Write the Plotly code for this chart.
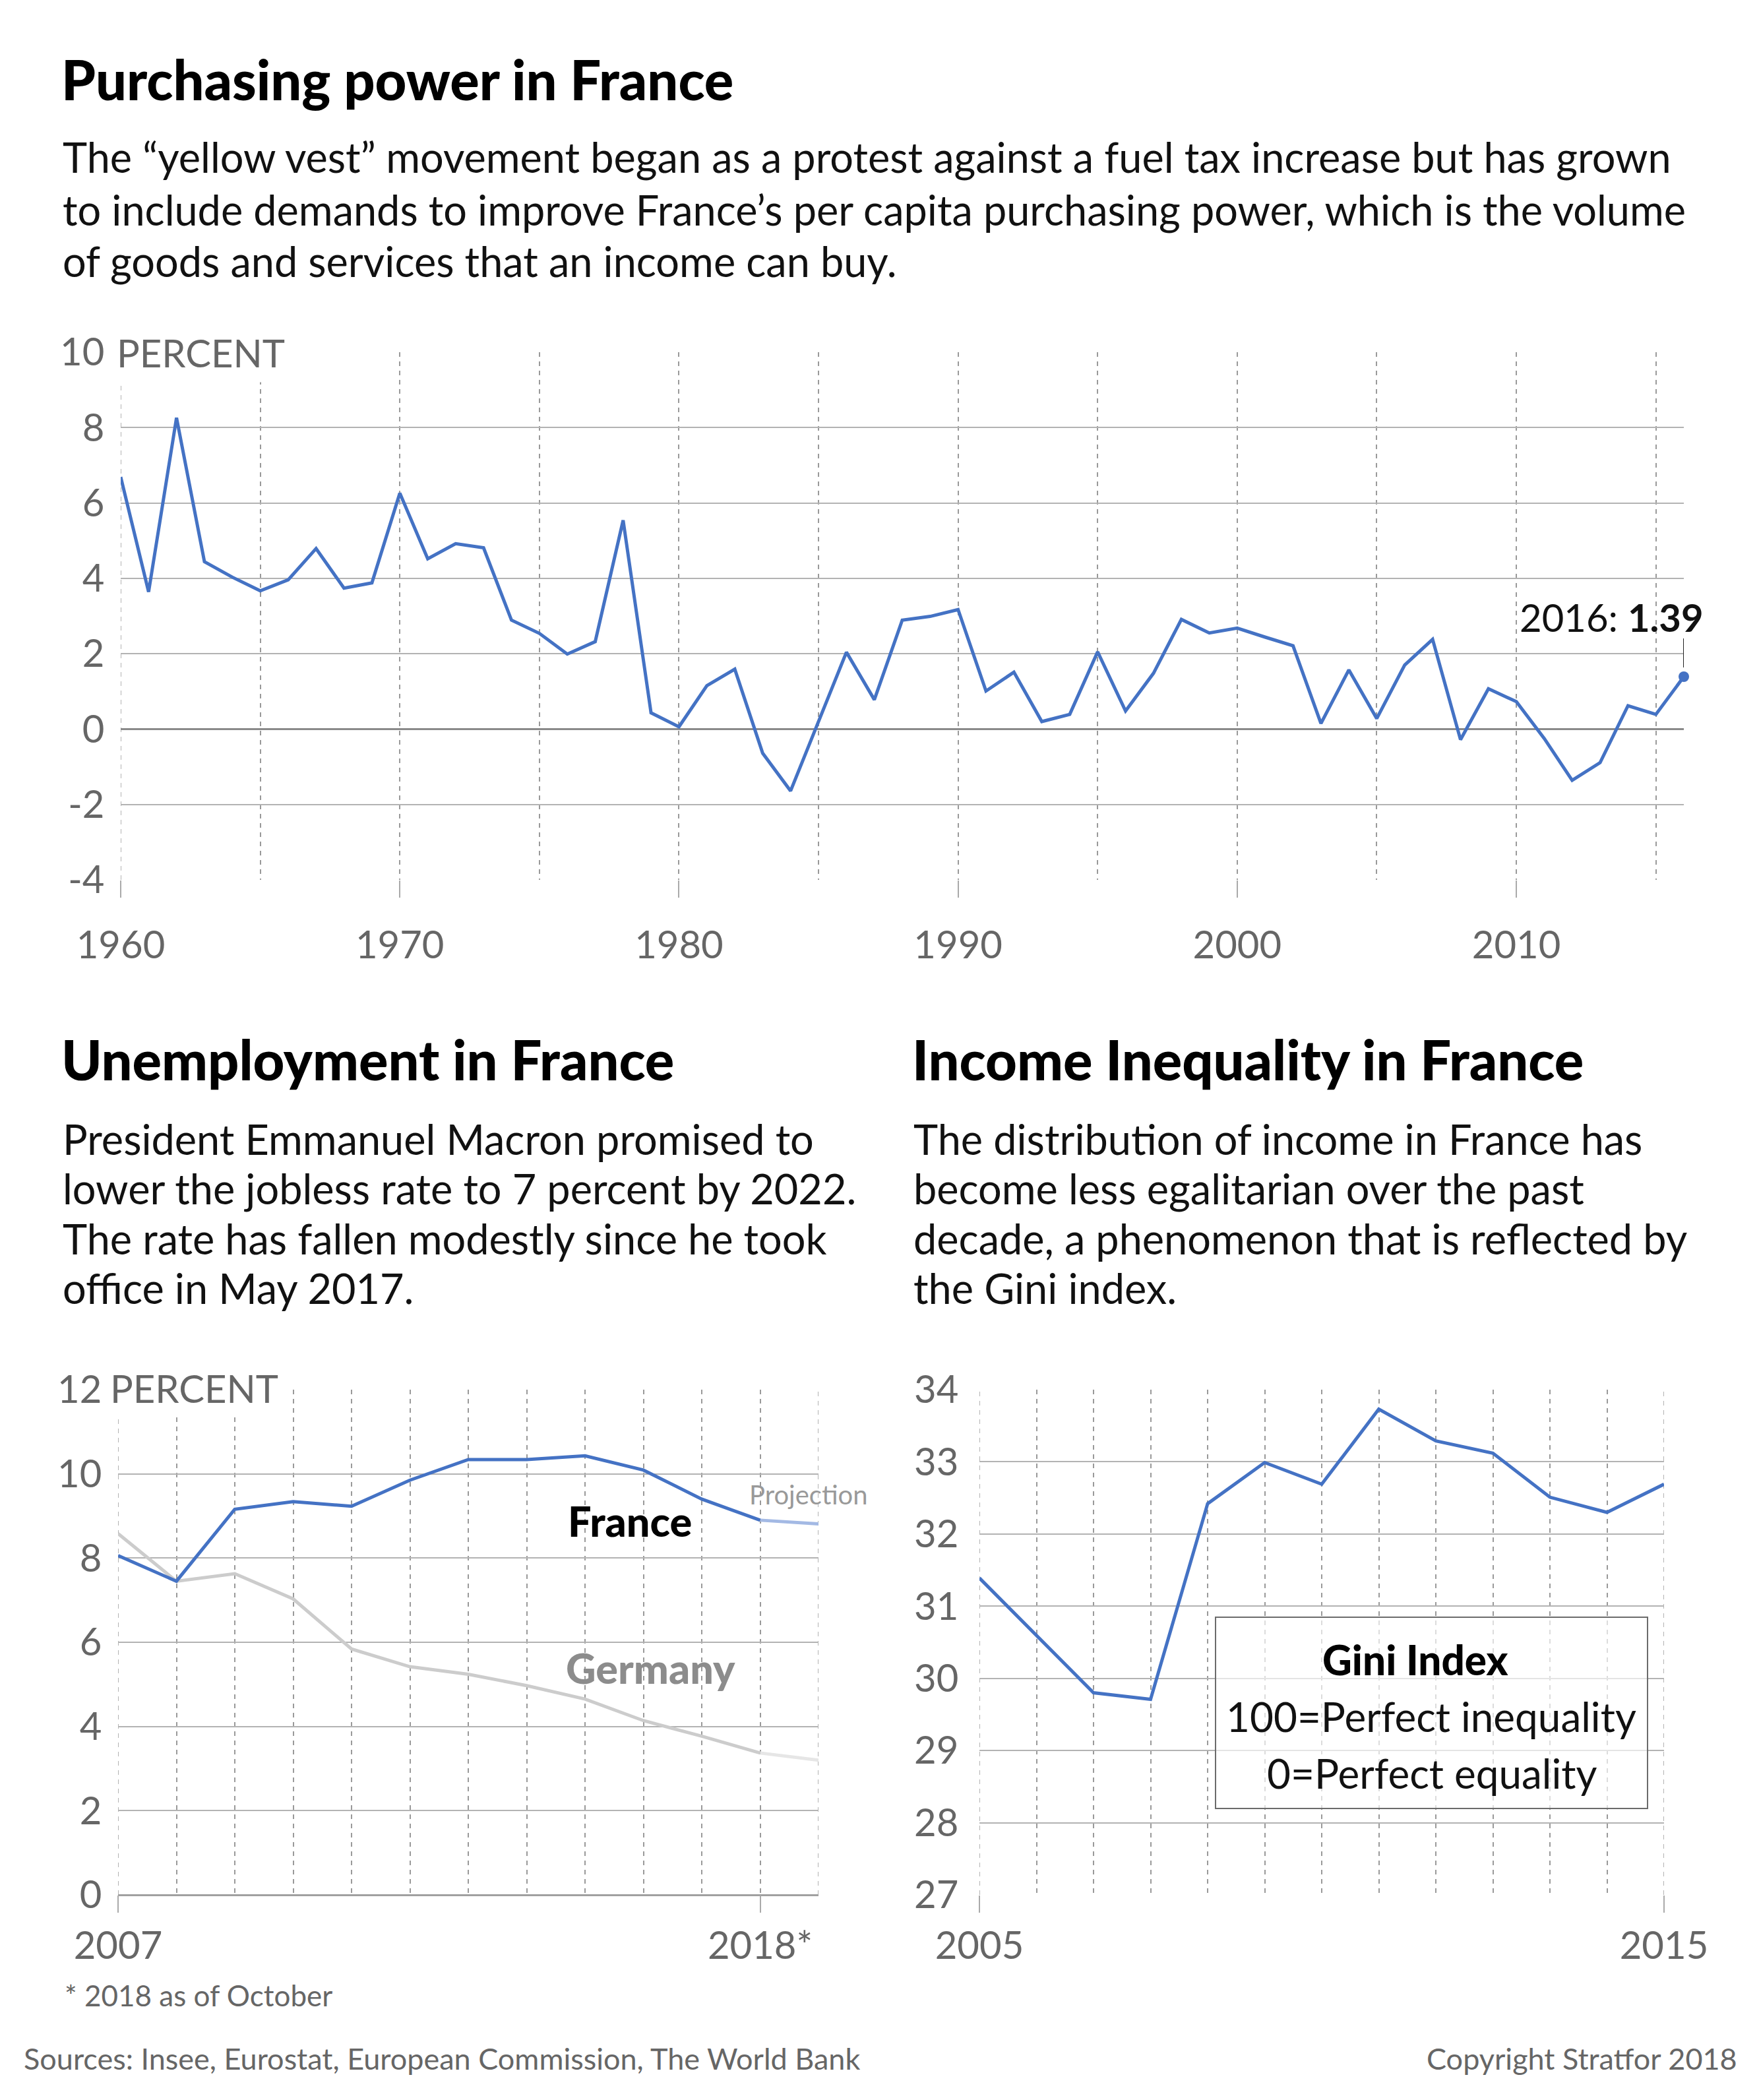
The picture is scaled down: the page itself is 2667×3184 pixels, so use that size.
import plotly.graph_objects as go

W, H = 2667, 3184
def px(x): return x / W
def py(y): return 1 - y / H

FONT = "Lato"
HEAVY = "Lato Black, Lato Heavy, Lato"
BLUE = "#4472c4"
BLUE_LIGHT = "#a3b9e4"
GREY_LINE = "#cccccc"
GREY_LIGHT = "#e6e6e6"
TICK_GREY = "#666666"
GRID_DASH = "#9a9a9a"

# ---------------- data ----------------
pp_years = list(range(1960, 2017))
pp_values = [6.69, 3.64, 8.26, 4.44, 4.03, 3.67, 3.96, 4.79, 3.74, 3.88,
             6.26, 4.52, 4.92, 4.81, 2.89, 2.54, 1.99, 2.32, 5.54, 0.43,
             0.06, 1.15, 1.59, -0.64, -1.64, 0.20, 2.04, 0.78, 2.89, 2.99,
             3.17, 1.01, 1.51, 0.20, 0.39, 2.05, 0.48, 1.48, 2.91, 2.55,
             2.68, 2.44, 2.21, 0.15, 1.57, 0.28, 1.70, 2.38, -0.28, 1.07,
             0.73, -0.25, -1.36, -0.89, 0.62, 0.39, 1.39]
pp_tick_years = [1960, 1970, 1980, 1990, 2000, 2010]
pp_y_ticks = [-4, -2, 0, 2, 4, 6, 8, 10]
pp_y_text = ["-4", "-2", "0", "2", "4", "6", "8", "10"]

un_years = list(range(2007, 2020))
un_france = [8.06, 7.45, 9.16, 9.34, 9.23, 9.85, 10.34, 10.34, 10.43, 10.09, 9.40, 8.90, 8.81]
un_germany = [8.58, 7.45, 7.63, 7.03, 5.84, 5.42, 5.24, 4.97, 4.65, 4.14, 3.77, 3.37, 3.20]
un_actual_count = 12          # 2007-2018 actual, 2018-2019 projection
un_tick_vals = [2007, 2018]
un_tick_text = ["2007", "2018*"]

gini_points = list(range(13))
gini_values = [31.39, 30.60, 29.80, 29.71, 32.42, 32.99, 32.69, 33.73, 33.29, 33.12, 32.51, 32.30, 32.69]
gini_tick_vals = [0, 12]
gini_tick_text = ["2005", "2015"]

fig = go.Figure()

# ---------------- traces ----------------
fig.add_trace(go.Scatter(x=pp_years, y=pp_values, mode="lines",
                         line=dict(color=BLUE, width=5), xaxis="x", yaxis="y",
                         hoverinfo="skip"))
fig.add_trace(go.Scatter(x=pp_years[-1:], y=pp_values[-1:], mode="markers",
                         marker=dict(color=BLUE, size=16), xaxis="x", yaxis="y",
                         cliponaxis=False, hoverinfo="skip"))

n = un_actual_count
fig.add_trace(go.Scatter(x=un_years[n-1:], y=un_germany[n-1:], mode="lines",
                         line=dict(color=GREY_LIGHT, width=5), xaxis="x2", yaxis="y2", cliponaxis=False))
fig.add_trace(go.Scatter(x=un_years[:n], y=un_germany[:n], mode="lines",
                         line=dict(color=GREY_LINE, width=5), xaxis="x2", yaxis="y2", cliponaxis=False))
fig.add_trace(go.Scatter(x=un_years[n-1:], y=un_france[n-1:], mode="lines",
                         line=dict(color=BLUE_LIGHT, width=5), xaxis="x2", yaxis="y2", cliponaxis=False))
fig.add_trace(go.Scatter(x=un_years[:n], y=un_france[:n], mode="lines",
                         line=dict(color=BLUE, width=5), xaxis="x2", yaxis="y2", cliponaxis=False))

fig.add_trace(go.Scatter(x=gini_points, y=gini_values, mode="lines",
                         line=dict(color=BLUE, width=5), xaxis="x3", yaxis="y3", cliponaxis=False))

# ---------------- axes ----------------
dash = "7px,7px"
def xaxis_common(**kw):
    d = dict(showline=False, zeroline=False, ticks="outside", ticklen=26, tickwidth=2,
             tickcolor="#aaaaaa", showgrid=True, gridcolor=GRID_DASH, gridwidth=1.5,
             griddash=dash, tickfont=dict(family=FONT, size=58, color=TICK_GREY),
             tickmode="array", fixedrange=True, automargin=False)
    d.update(kw)
    return d

def yaxis_common(**kw):
    d = dict(showline=False, ticks="outside", ticklen=12, tickcolor="rgba(0,0,0,0)",
             showgrid=True, gridcolor="#b3b3b3", gridwidth=2,
             tickfont=dict(family=FONT, size=58, color=TICK_GREY), fixedrange=True,
             automargin=False)
    d.update(kw)
    return d

fig.update_layout(
    xaxis=xaxis_common(domain=[px(183), px(2553)], range=[1960, 2016],
                       tickvals=pp_tick_years, ticklabelstandoff=22,
                       minor=dict(tickmode="linear", tick0=1960, dtick=5, showgrid=True,
                                  gridcolor=GRID_DASH, gridwidth=1.5, griddash=dash, ticks=""),
                       anchor="y"),
    yaxis=yaxis_common(domain=[py(1334), py(534)], range=[-4, 10],
                       tickmode="array", tickvals=pp_y_ticks, ticktext=pp_y_text,
                       zeroline=True, zerolinecolor="#8a8a8a", zerolinewidth=3, anchor="x"),
    xaxis2=xaxis_common(domain=[px(179), px(1241)], range=[2007, 2019],
                        tickvals=un_tick_vals, ticktext=un_tick_text, ticklabelstandoff=0,
                        minor=dict(tickmode="linear", tick0=2007, dtick=1, showgrid=True,
                                   gridcolor=GRID_DASH, gridwidth=1.5, griddash=dash, ticks=""),
                        anchor="y2"),
    yaxis2=yaxis_common(domain=[py(2873), py(2107)], range=[0, 12], dtick=2, tick0=0,
                        zeroline=True, zerolinecolor="#a0a0a0", zerolinewidth=3, anchor="x2"),
    xaxis3=xaxis_common(domain=[px(1485), px(2523)], range=[0, 12],
                        tickvals=gini_tick_vals, ticktext=gini_tick_text, ticklabelstandoff=0,
                        minor=dict(tickmode="linear", tick0=0, dtick=1, showgrid=True,
                                   gridcolor=GRID_DASH, gridwidth=1.5, griddash=dash, ticks=""),
                        anchor="y3"),
    yaxis3=yaxis_common(domain=[py(2873), py(2107)], range=[27, 34], dtick=1, tick0=27,
                        zeroline=False, ticklen=19, anchor="x3"),
)

# ---------------- shapes ----------------
shapes = []
def edge_grid(xref, yref, xval):
    shapes.append(dict(type="line", xref=xref, yref=yref + " domain", x0=xval, x1=xval,
                       y0=0, y1=1, layer="below",
                       line=dict(color=GRID_DASH, width=1.5, dash=dash)))
edge_grid("x", "y", pp_years[0])
edge_grid("x2", "y2", un_years[0])
edge_grid("x2", "y2", un_years[-1])
edge_grid("x3", "y3", gini_points[0])
edge_grid("x3", "y3", gini_points[-1])

shapes.append(dict(type="line", xref="x", yref="y", xsizemode="scaled", ysizemode="pixel",
                   yanchor=pp_values[-1], x0=pp_years[-1], x1=pp_years[-1], y0=14, y1=58,
                   line=dict(color="#222222", width=2)))
shapes.append(dict(type="rect", xref="paper", yref="paper",
                   x0=px(1843), x1=px(2498), y0=py(2742), y1=py(2452),
                   line=dict(color="#6b6b6b", width=2), fillcolor="rgba(255,255,255,0.65)",
                   layer="above"))
fig.update_layout(shapes=shapes)

# ---------------- text ----------------
ann = []
def text(x, y, s, size, color="#111111", weight="normal", xanchor="left", bg=None, pad=0,
         family=FONT):
    a = dict(xref="paper", yref="paper", x=px(x), y=py(y), text=s, showarrow=False,
             xanchor=xanchor, yanchor="middle",
             font=dict(family=family, size=size, color=color, weight=weight))
    if bg:
        a.update(bgcolor=bg, borderpad=pad)
    ann.append(a)

TITLE = 83
BODY = 63
text(91, 120, "Purchasing power in France", TITLE, "#000000", 900, family=HEAVY)
text(93, 237, "The “yellow vest” movement began as a protest against a fuel tax increase but has grown", BODY)
text(93, 317, "to include demands to improve France’s per capita purchasing power, which is the volume", BODY)
text(93, 395, "of goods and services that an income can buy.", BODY)
text(166, 534, "PERCENT", 58, TICK_GREY, xanchor="left", bg="white", pad=10)

ann.append(dict(xref="x", yref="y", x=pp_years[-1], y=pp_values[-1], xanchor="right",
                yanchor="middle", xshift=32, yshift=91, showarrow=False,
                text="2016: <b>1.39</b>", font=dict(family=FONT, size=58, color="#111111")))

text(91, 1606, "Unemployment in France", TITLE, "#000000", 900, family=HEAVY)
for i, line in enumerate(["President Emmanuel Macron promised to",
                          "lower the jobless rate to 7 percent by 2022.",
                          "The rate has fallen modestly since he took",
                          "office in May 2017."]):
    text(93, 1726 + i * 75.5, line, BODY)
text(158, 2104, "PERCENT", 58, TICK_GREY, xanchor="left", bg="white", pad=8)
text(955, 2305, "France", 63, "#000000", 900, xanchor="center")
text(986, 2528, "Germany", 63, "#8c8c8c", 900, xanchor="center")
text(1226, 2266, "Projection", 40, "#999999", xanchor="center")
text(96, 3025, "* 2018 as of October", 44, TICK_GREY)

text(1381, 1606, "Income Inequality in France", TITLE, "#000000", 900, family=HEAVY)
for i, line in enumerate(["The distribution of income in France has",
                          "become less egalitarian over the past",
                          "decade, a phenomenon that is reflected by",
                          "the Gini index."]):
    text(1383, 1726 + i * 75.5, line, BODY)
text(2146, 2516, "Gini Index", 62, "#000000", 900, xanchor="center")
text(2170, 2602, "100=Perfect inequality", 62, "#111111", xanchor="center")
text(2171, 2688, "0=Perfect equality", 62, "#111111", xanchor="center")

text(34, 3121, "Sources: Insee, Eurostat, European Commission, The World Bank", 45, TICK_GREY)
text(2636, 3121, "Copyright Stratfor 2018", 45, TICK_GREY, xanchor="right")

fig.update_layout(annotations=ann, width=W, height=H,
                  margin=dict(l=0, r=0, t=0, b=0, pad=0, autoexpand=False),
                  paper_bgcolor="white", plot_bgcolor="white", showlegend=False,
                  font=dict(family=FONT))

fig.write_html("out.html", config={"displayModeBar": False})
